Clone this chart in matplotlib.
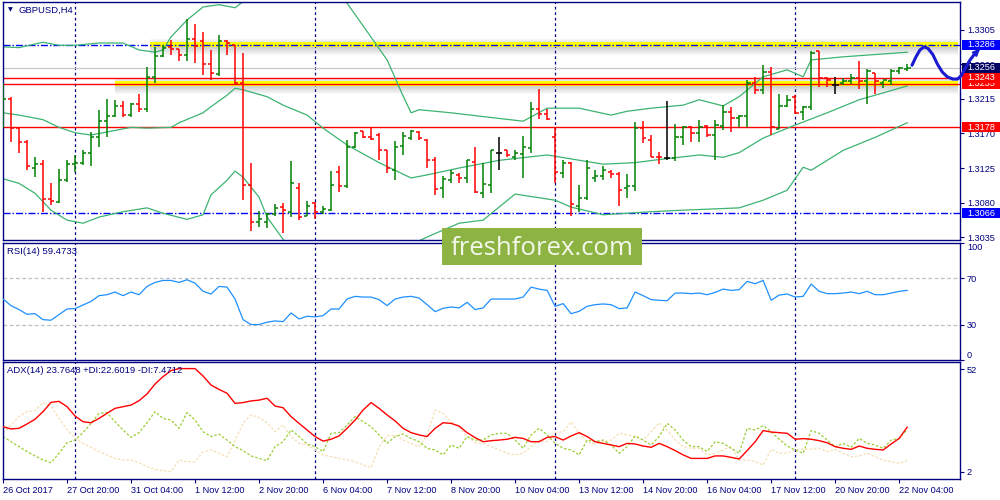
import matplotlib
matplotlib.use("Agg")
import matplotlib.pyplot as plt
import matplotlib.transforms as mtransforms
from matplotlib.patches import Rectangle

plt.rcParams['font.family'] = ['Liberation Sans', 'DejaVu Sans']

# ---------------- data ----------------
symbol_label = "GBPUSD,H4"
rsi_label = "RSI(14) 59.4733"
adx_label = "ADX(14) 23.7648 +DI:22.6019 -DI:7.4712"

bar_index = list(range(114))

opens = [1.3194, 1.3215, 1.3177, 1.3159, 1.3125, 1.3130, 1.3084, 1.3081, 1.3109, 1.3130,
         1.3132, 1.3145, 1.3165, 1.3186, 1.3193, 1.3206, 1.3194, 1.3208, 1.3202, 1.3244,
         1.3271, 1.3283, 1.3280, 1.3272, 1.3293, 1.3290, 1.3261, 1.3248, 1.3291, 1.3285,
         1.3236, 1.3103, 1.3055, 1.3055, 1.3065, 1.3074, 1.3068, 1.3099, 1.3062, 1.3079,
         1.3067, 1.3070, 1.3120, 1.3101, 1.3152, 1.3173, 1.3165, 1.3168, 1.3149, 1.3122,
         1.3154, 1.3164, 1.3172, 1.3162, 1.3135, 1.3099, 1.3110, 1.3116, 1.3112, 1.3133,
         1.3093, 1.3103, 1.3144, 1.3148, 1.3140, 1.3143, 1.3151, 1.3202, 1.3196, 1.3165,
         1.3118, 1.3132, 1.3075, 1.3086, 1.3112, 1.3115, 1.3120, 1.3117, 1.3099, 1.3101,
         1.3177, 1.3162, 1.3140, 1.3138, 1.3138, 1.3165, 1.3178, 1.3170, 1.3180, 1.3168,
         1.3180, 1.3198, 1.3190, 1.3193, 1.3236, 1.3227, 1.3250, 1.3176, 1.3206, 1.3218,
         1.3198, 1.3204, 1.3277, 1.3242, 1.3233, 1.3236, 1.3238, 1.3242, 1.3238, 1.3249,
         1.3236, 1.3238, 1.3251, 1.3254]
highs = [1.3236, 1.3218, 1.3178, 1.3162, 1.3139, 1.3135, 1.3106, 1.3124, 1.3135, 1.3142,
         1.3149, 1.3172, 1.3201, 1.3215, 1.3214, 1.3213, 1.3210, 1.3221, 1.3257, 1.3283,
         1.3285, 1.3292, 1.3280, 1.3319, 1.3313, 1.3303, 1.3279, 1.3298, 1.3292, 1.3285,
         1.3275, 1.3131, 1.3069, 1.3066, 1.3078, 1.3079, 1.3134, 1.3105, 1.3082, 1.3081,
         1.3075, 1.3121, 1.3128, 1.3162, 1.3172, 1.3173, 1.3177, 1.3170, 1.3149, 1.3160,
         1.3172, 1.3175, 1.3173, 1.3163, 1.3140, 1.3114, 1.3122, 1.3118, 1.3135, 1.3152,
         1.3131, 1.3149, 1.3165, 1.3149, 1.3148, 1.3167, 1.3211, 1.3228, 1.3202, 1.3179,
         1.3135, 1.3133, 1.3103, 1.3136, 1.3123, 1.3128, 1.3122, 1.3120, 1.3117, 1.3185,
         1.3186, 1.3168, 1.3146, 1.3213, 1.3183, 1.3180, 1.3180, 1.3187, 1.3181, 1.3188,
         1.3207, 1.3205, 1.3194, 1.3240, 1.3244, 1.3259, 1.3257, 1.3221, 1.3220, 1.3220,
         1.3206, 1.3277, 1.3278, 1.3244, 1.3244, 1.3243, 1.3248, 1.3265, 1.3254, 1.3249,
         1.3239, 1.3254, 1.3257, 1.3261]
lows = [1.3177, 1.3159, 1.3145, 1.3122, 1.3113, 1.3068, 1.3077, 1.3079, 1.3107, 1.3120,
        1.3129, 1.3127, 1.3153, 1.3165, 1.3192, 1.3191, 1.3192, 1.3198, 1.3198, 1.3236,
        1.3270, 1.3272, 1.3265, 1.3265, 1.3262, 1.3246, 1.3240, 1.3245, 1.3272, 1.3233,
        1.3083, 1.3043, 1.3048, 1.3047, 1.3062, 1.3040, 1.3061, 1.3057, 1.3062, 1.3058,
        1.3065, 1.3069, 1.3094, 1.3099, 1.3151, 1.3164, 1.3162, 1.3135, 1.3119, 1.3109,
        1.3142, 1.3162, 1.3162, 1.3125, 1.3090, 1.3086, 1.3105, 1.3105, 1.3105, 1.3093,
        1.3086, 1.3093, 1.3122, 1.3140, 1.3136, 1.3112, 1.3144, 1.3189, 1.3187, 1.3105,
        1.3112, 1.3062, 1.3068, 1.3083, 1.3107, 1.3109, 1.3112, 1.3075, 1.3086, 1.3095,
        1.3157, 1.3139, 1.3130, 1.3135, 1.3134, 1.3155, 1.3159, 1.3159, 1.3166, 1.3135,
        1.3174, 1.3172, 1.3178, 1.3178, 1.3222, 1.3222, 1.3168, 1.3176, 1.3205, 1.3195,
        1.3187, 1.3201, 1.3231, 1.3230, 1.3222, 1.3233, 1.3235, 1.3228, 1.3209, 1.3222,
        1.3229, 1.3233, 1.3248, 1.3252]
closes = [1.3215, 1.3177, 1.3159, 1.3128, 1.3130, 1.3084, 1.3082, 1.3109, 1.3130, 1.3132,
          1.3145, 1.3165, 1.3186, 1.3193, 1.3206, 1.3194, 1.3208, 1.3202, 1.3244, 1.3271,
          1.3281, 1.3280, 1.3272, 1.3293, 1.3284, 1.3261, 1.3249, 1.3291, 1.3288, 1.3236,
          1.3103, 1.3055, 1.3058, 1.3065, 1.3073, 1.3070, 1.3105, 1.3061, 1.3076, 1.3068,
          1.3072, 1.3103, 1.3101, 1.3153, 1.3171, 1.3166, 1.3163, 1.3149, 1.3125, 1.3152,
          1.3167, 1.3173, 1.3164, 1.3135, 1.3097, 1.3111, 1.3118, 1.3112, 1.3135, 1.3094,
          1.3104, 1.3148, 1.3144, 1.3142, 1.3144, 1.3152, 1.3202, 1.3196, 1.3189, 1.3120,
          1.3131, 1.3078, 1.3086, 1.3125, 1.3115, 1.3122, 1.3117, 1.3096, 1.3101, 1.3177,
          1.3164, 1.3140, 1.3139, 1.3138, 1.3166, 1.3179, 1.3171, 1.3178, 1.3168, 1.3181,
          1.3198, 1.3190, 1.3193, 1.3236, 1.3227, 1.3250, 1.3178, 1.3206, 1.3214, 1.3197,
          1.3204, 1.3275, 1.3242, 1.3240, 1.3233, 1.3238, 1.3242, 1.3238, 1.3251, 1.3238,
          1.3240, 1.3251, 1.3255, 1.3256]

bb_upper_bars = [0, 2, 5, 7, 9, 12, 15, 17, 19, 20, 21, 23, 25, 27, 29, 30, 33, 36, 39, 41,
                 43, 48, 50, 51, 52, 56, 65, 68, 72, 76, 78, 81, 85, 87, 90, 92, 95, 98, 100, 101,
                 105, 113]
bb_upper = [1.3283, 1.3282, 1.3289, 1.3285, 1.3285, 1.3288, 1.3288, 1.3279, 1.3276, 1.3279,
            1.3296, 1.3318, 1.3335, 1.3338, 1.3334, 1.3342, 1.3357, 1.3364, 1.3364, 1.3351,
            1.3340, 1.3266, 1.3219, 1.3197, 1.3201, 1.3197, 1.3186, 1.3203, 1.3203, 1.3194,
            1.3199, 1.3203, 1.3207, 1.3214, 1.3206, 1.3218, 1.3244, 1.3253, 1.3244, 1.3266,
            1.3270, 1.3276]
bb_mid_bars = [0, 2, 5, 7, 9, 11, 13, 16, 18, 21, 22, 25, 26, 28, 29, 30, 33, 35, 38, 40,
               43, 47, 51, 53, 57, 62, 68, 75, 79, 82, 87, 90, 92, 95, 99, 103, 107, 113]
bb_mid = [1.3197, 1.3194, 1.3188, 1.3178, 1.3171, 1.3168, 1.3172, 1.3178, 1.3177, 1.3178,
          1.3184, 1.3197, 1.3205, 1.3220, 1.3229, 1.3227, 1.3218, 1.3207, 1.3194, 1.3177,
          1.3155, 1.3132, 1.3112, 1.3116, 1.3125, 1.3135, 1.3142, 1.3130, 1.3132, 1.3136,
          1.3142, 1.3139, 1.3145, 1.3164, 1.3181, 1.3197, 1.3214, 1.3232]
bb_lower_bars = [0, 2, 4, 6, 8, 10, 12, 15, 18, 20, 23, 25, 26, 28, 29, 30, 32, 33, 35, 38,
                 42, 47, 52, 53, 57, 60, 64, 69, 71, 75, 81, 85, 92, 95, 98, 100, 101, 105, 109, 113]
bb_lower = [1.3111, 1.3105, 1.3092, 1.3070, 1.3057, 1.3053, 1.3061, 1.3068, 1.3073, 1.3066,
            1.3058, 1.3064, 1.3090, 1.3109, 1.3121, 1.3113, 1.3087, 1.3061, 1.3032, 1.2995,
            1.2985, 1.3010, 1.3030, 1.3035, 1.3053, 1.3057, 1.3091, 1.3083, 1.3074, 1.3064,
            1.3068, 1.3070, 1.3073, 1.3083, 1.3096, 1.3126, 1.3122, 1.3148, 1.3165, 1.3184]

rsi = [52.1, 46.5, 43.1, 39.1, 39.6, 34.5, 34.0, 38.8, 43.6, 43.9,
       47.0, 50.1, 55.0, 55.8, 58.1, 55.0, 58.1, 55.8, 62.9, 66.3,
       68.0, 68.0, 66.3, 68.6, 65.7, 58.7, 56.4, 62.9, 62.3, 52.1,
       34.5, 30.3, 30.3, 32.3, 33.4, 32.8, 40.2, 35.1, 37.4, 36.8,
       37.9, 43.6, 43.6, 52.1, 54.4, 53.8, 53.8, 51.6, 46.5, 52.1,
       53.8, 54.4, 53.0, 47.3, 41.3, 44.2, 45.3, 44.5, 49.3, 43.1,
       44.5, 52.1, 52.1,
       52.1, 52.1, 53.8, 62.3, 60.6, 59.5, 45.9, 48.2, 39.6, 41.6,
       45.9, 47.3, 47.9, 47.3, 43.9, 44.5, 58.1, 55.0, 51.6, 51.0,
       50.7, 57.2, 57.2, 56.7, 57.2, 55.8, 57.8, 60.6, 59.5, 60.1,
       67.2, 65.2, 68.0, 51.0, 55.5, 56.4, 53.8, 54.4, 64.9, 58.7,
       56.7, 56.7, 57.2, 58.1, 56.7, 58.7, 55.8, 55.8, 57.2, 58.7, 59.47]

adx = [24.0, 22.9, 23.2, 25.3, 27.6, 31.3, 35.8, 36.3, 33.7, 29.2,
       26.4, 25.9, 28.0, 30.5, 32.9, 33.7, 34.5, 36.6, 39.9, 44.7,
       48.3, 51.2, 52.2, 52.2, 52.2, 48.6, 44.2, 42.1, 40.2, 35.3,
       35.7, 36.5, 36.9, 37.8, 34.0, 33.2, 28.9, 25.6, 22.4, 19.2,
       17.0, 17.9, 19.5, 23.2, 27.2, 32.1, 35.7, 32.9, 29.7, 26.8,
       23.2, 21.1, 20.0, 19.2, 23.2, 25.9, 25.6, 24.3, 21.1, 18.7,
       16.7, 17.2, 17.5,
       17.9, 18.8, 18.3, 16.7, 16.7, 18.8, 19.2, 17.5, 19.5, 21.1,
       19.2, 16.7, 15.9, 15.1, 14.3, 15.9, 15.6, 14.6, 14.0, 15.9,
       14.3, 12.4, 10.3, 8.6, 8.6, 8.6, 9.8, 9.8, 9.1, 8.3,
       12.4, 16.7, 22.1, 21.4, 21.1, 20.8, 17.9, 18.2, 17.9, 17.2,
       16.2, 14.3, 13.5, 13.0, 14.6, 13.5, 13.0, 12.7, 15.6, 18.3, 23.76]
plus_di = [19.2, 16.7, 14.3, 11.9, 9.8, 7.8, 6.5, 11.1, 16.2, 17.5,
           21.1, 25.6, 30.5, 30.8, 26.4, 22.4, 18.8, 21.1, 25.9, 31.3,
           28.0, 27.2, 23.2, 30.8, 27.2, 21.6, 19.2, 20.4, 17.5, 14.3,
           12.4, 9.8, 8.6, 7.5, 14.3, 16.7, 22.4, 19.2, 15.6, 14.3,
           11.9, 20.8, 21.1, 24.8, 28.9, 26.4, 24.0, 20.0, 15.9, 19.2,
           20.4, 18.3, 16.7, 13.5, 12.7, 10.3, 15.1, 13.5, 19.2, 17.5,
           17.5, 20.0, 20.8,
           20.8, 17.5, 13.5, 20.0, 23.2, 20.0, 15.9, 13.5, 12.7, 10.3,
           17.5, 16.7, 17.5, 15.1, 11.1, 14.3, 19.5, 17.5, 15.1, 19.2,
           25.6, 22.4, 17.5, 14.3, 14.3, 11.9, 16.7, 15.9, 13.5, 11.1,
           23.2, 22.4, 24.5, 21.6, 17.9, 14.6, 12.7, 11.1, 22.1, 20.8,
           17.5, 14.3, 15.9, 14.0, 18.3, 15.9, 15.1, 13.5, 17.5, 18.3, 22.60]
minus_di = [20.8, 24.8, 28.9, 31.3, 31.8, 35.7, 34.0, 28.0, 22.7, 18.3,
            15.9, 14.0, 11.9, 10.3, 8.6, 7.8, 7.8, 6.5, 4.6, 3.3,
            2.6, 2.2, 7.8, 7.0, 7.0, 11.9, 12.7, 11.1, 9.4, 17.5,
            25.6, 29.7, 28.5, 25.9, 21.6, 24.8, 19.2, 15.9, 15.1, 12.7,
            10.3, 9.4, 8.6, 7.8, 7.0, 5.4, 4.1, 14.3, 19.5, 20.0,
            17.5, 15.9, 14.3, 20.0, 32.1, 30.5, 26.4, 24.0, 19.2, 16.2,
            15.9, 14.3, 12.7,
            11.1, 10.3, 11.1, 14.3, 17.5, 16.7, 21.1, 21.6, 26.4, 20.8,
            16.7, 15.6, 16.7, 17.5, 20.8, 20.0, 19.2, 17.5, 21.6, 25.9,
            22.4, 17.5, 14.3, 13.5, 13.5, 10.3, 11.1, 12.7, 14.3, 7.8,
            7.8, 7.0, 5.4, 13.0, 11.1, 11.1, 13.0, 13.0, 13.0, 13.5,
            11.9, 13.0, 11.1, 9.4, 9.8, 11.1, 9.4, 7.8, 7.0, 6.2, 7.47]

week_start_bars = [9, 39, 69, 99]
x_tick_bars = [0, 8, 16, 24, 32, 40, 48, 56, 64, 72, 80, 88, 96, 104, 112]
x_tick_labels = ["26 Oct 2017", "27 Oct 20:00", "31 Oct 04:00", "1 Nov 12:00", "2 Nov 20:00",
                 "6 Nov 04:00", "7 Nov 12:00", "8 Nov 20:00", "10 Nov 04:00", "13 Nov 12:00",
                 "14 Nov 20:00", "16 Nov 04:00", "17 Nov 12:00", "20 Nov 20:00", "22 Nov 04:00"]
price_ticks = [1.3035, 1.3080, 1.3125, 1.3170, 1.3215, 1.3260, 1.3305]
rsi_ticks = [0, 30, 70, 100]
rsi_levels = [30, 70]
adx_ticks = [2, 52]

# horizontal levels
blue_levels = [1.3286, 1.3066]
red_levels = [1.3243, 1.3235, 1.3178]
bid_price = 1.3256
zone_prices = [1.3286, 1.3235]
zone_start_bars = [18.4, 14.0]
zone_end_bar = 119.3
# right-hand price boxes (drawn bottom-up in this order)
box_prices = [1.3286, 1.3235, 1.3243, 1.3256, 1.3178, 1.3066]
box_colors = ['#0000ff', '#ff0000', '#ff0000', '#000060', '#ff0000', '#0000ff']

# hand-drawn forecast path
forecast_bars = [113.6, 114.1, 114.6, 115.1, 115.6, 116.2, 116.8, 117.4, 118.0, 118.7,
                 119.3, 119.8, 120.3, 120.8, 121.3, 121.9]
forecast_prices = [1.3259, 1.3270, 1.3279, 1.3283, 1.3281, 1.3273, 1.3260, 1.3250, 1.3244, 1.3241,
                   1.3241, 1.3246, 1.3256, 1.3265, 1.3272, 1.3279]

# ---------------- figure ----------------
NAVY = '#000080'
PX = 0.0001 / 0.7667  # price per pixel on the main panel

fig = plt.figure(figsize=(10, 5), dpi=100)
fig.patch.set_facecolor('white')
ax = fig.add_axes([0.003, 0.52, 0.957, 0.476])
ax_rsi = fig.add_axes([0.003, 0.28, 0.957, 0.234])
ax_adx = fig.add_axes([0.003, 0.042, 0.957, 0.234])

for a in (ax, ax_rsi, ax_adx):
    for s in a.spines.values():
        s.set_color(NAVY)
        s.set_linewidth(1.0)
    a.set_xlim(0.0, 119.6)
    a.yaxis.tick_right()
    a.tick_params(axis='y', direction='out', length=3, width=0.8, colors=NAVY,
                  labelsize=6.6, pad=2)
    a.tick_params(axis='x', bottom=False, labelbottom=False)
    for wb in week_start_bars:
        a.axvline(wb, color=NAVY, lw=0.9, dashes=(2.2, 2.2), zorder=1)

# ---- main panel ----
ax.set_ylim(1.30311, 1.33415)
ax.set_yticks(price_ticks)
ax.set_yticklabels([f"{p:.4f}" for p in price_ticks])

# yellow zones with soft shadow
for zp, zs in zip(zone_prices, zone_start_bars):
    for k in range(8):
        alpha = 0.30 * (1 - k / 8.0)
        ax.fill_between([zs, zone_end_bar], zp - 2.5 * PX - (k + 1) * PX, zp - 2.5 * PX - k * PX,
                        color='#606060', alpha=alpha, lw=0, zorder=1.1)
    for k in range(3):
        alpha = 0.15 * (1 - k / 3.0)
        ax.fill_between([zs, zone_end_bar], zp + 2.5 * PX + k * PX, zp + 2.5 * PX + (k + 1) * PX,
                        color='#606060', alpha=alpha, lw=0, zorder=1.1)
    ax.fill_between([zs, zone_end_bar], zp - 2.5 * PX, zp + 2.5 * PX, color='#ffff00', lw=0, zorder=1.2)

ax.axhline(bid_price, color='#c8c8c8', lw=0.9, zorder=1.3)
for lv in red_levels:
    ax.axhline(lv, color='#ff0000', lw=1.0, zorder=1.4)
for lv in blue_levels:
    ax.axhline(lv, color='#0000ff', lw=1.0, dashes=(5, 1.5, 1, 1.5), zorder=1.4)

bb_color = '#3cb371'
ax.plot(bb_upper_bars, bb_upper, color=bb_color, lw=0.9, zorder=2)
ax.plot(bb_mid_bars, bb_mid, color=bb_color, lw=0.9, zorder=2)
ax.plot(bb_lower_bars, bb_lower, color=bb_color, lw=0.9, zorder=2)

bar_colors = ['#008000' if c > o else ('#ff0000' if c < o else '#000000')
              for o, c in zip(opens, closes)]
ax.vlines(bar_index, lows, highs, colors=bar_colors, lw=1.1, zorder=3)
ax.hlines(opens, [i - 0.42 for i in bar_index], bar_index, colors=bar_colors, lw=1.1, zorder=3)
ax.hlines(closes, bar_index, [i + 0.42 for i in bar_index], colors=bar_colors, lw=1.1, zorder=3)

# price boxes on the right scale (later boxes cover earlier ones)
trans = mtransforms.blended_transform_factory(ax.transAxes, ax.transData)
box_h = 10 * PX
for n, (bp, bc) in enumerate(zip(box_prices, box_colors)):
    ax.add_patch(Rectangle((1.0021, bp - box_h / 2), 0.0418, box_h, transform=trans,
                           facecolor=bc, edgecolor='none', clip_on=False, zorder=5 + 2 * n))
    ax.text(1.0075, bp, f"{bp:.4f}", transform=trans, color='white', fontsize=6.6,
            ha='left', va='center', clip_on=False, zorder=6 + 2 * n)

# forecast curve
ax.plot(forecast_bars, forecast_prices, color='#1a1ad0', lw=2.2, clip_on=False, zorder=30,
        solid_capstyle='round', solid_joinstyle='round')
ax.annotate('', xy=(forecast_bars[-1] + 0.4, forecast_prices[-1] + 0.0004),
            xytext=(forecast_bars[-2], forecast_prices[-2]),
            arrowprops=dict(arrowstyle='->', color='#1a1ad0', lw=1.8, mutation_scale=8),
            annotation_clip=False, zorder=30)

ax.text(0.005, 0.966, '\u25BC', transform=ax.transAxes, fontsize=4.5, color=NAVY,
        ha='left', va='center', family='DejaVu Sans')
ax.text(0.016, 0.966, symbol_label, transform=ax.transAxes, fontsize=6.8, color=NAVY,
        ha='left', va='center')

# ---- RSI panel ----
ax_rsi.set_ylim(0, 100)
for lv in rsi_levels:
    ax_rsi.axhline(lv, color='#c0c0c0', lw=0.9, dashes=(3, 2), zorder=1)
ax_rsi.plot(bar_index, rsi, color='#1e90ff', lw=0.9, zorder=3)
ax_rsi.set_yticks(rsi_ticks)
ax_rsi.set_yticklabels([str(t) for t in rsi_ticks])
rl = ax_rsi.get_yticklabels()
rl[0].set_va('bottom')
rl[-1].set_va('top')
ax_rsi.text(0.004, 0.93, rsi_label, transform=ax_rsi.transAxes, fontsize=6.8, color=NAVY,
            ha='left', va='center')

# ---- ADX panel ----
ax_adx.set_ylim(-1.4, 55.4)
ax_adx.plot(bar_index, minus_di, color='#f5deb3', lw=0.9, dashes=(2, 1.5), zorder=2)
ax_adx.plot(bar_index, plus_di, color='#9acd32', lw=0.9, dashes=(2, 1.5), zorder=2.1)
ax_adx.plot(bar_index, adx, color='#ff0000', lw=1.0, zorder=3)
ax_adx.set_yticks(adx_ticks)
ax_adx.set_yticklabels([str(t) for t in adx_ticks])
ax_adx.text(0.004, 0.925, adx_label, transform=ax_adx.transAxes, fontsize=6.8, color=NAVY,
            ha='left', va='center')
ax_adx.tick_params(axis='x', bottom=True, labelbottom=True, direction='out', length=3,
                   width=0.8, colors=NAVY, labelsize=6.6, pad=2)
ax_adx.set_xticks(x_tick_bars)
ax_adx.set_xticklabels(x_tick_labels)
for lbl in ax_adx.get_xticklabels():
    lbl.set_ha('left')

# ---- watermark ----
fig.patches.append(Rectangle((0.442, 0.47), 0.2, 0.074, transform=fig.transFigure,
                             facecolor='#8db443', edgecolor='none', zorder=10))
fig.text(0.542, 0.49, 'freshforex.com', color='#f3f7ec', fontsize=18.5, family='Open Sans',
         ha='center', va='baseline', zorder=11)

fig.savefig('out.png', dpi=100, facecolor='white')
